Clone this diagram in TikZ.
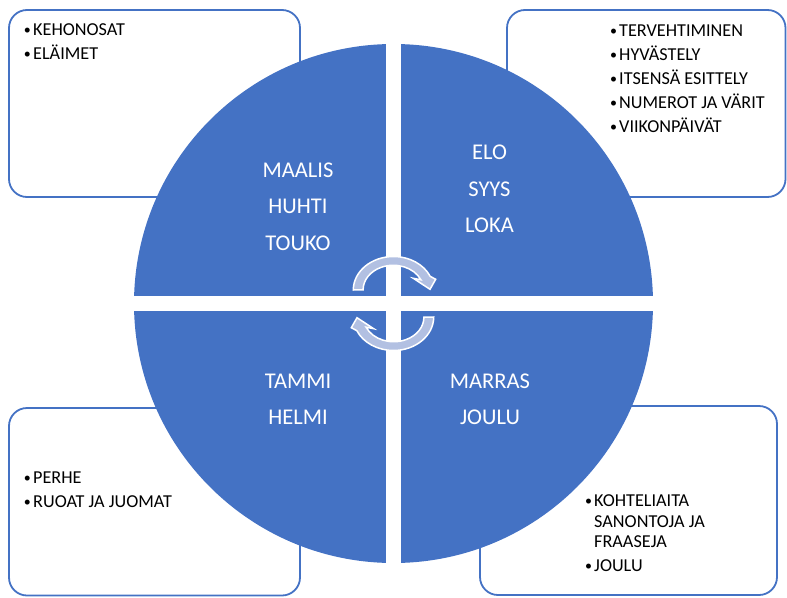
\documentclass[tikz,border=0pt]{standalone}
\usepackage{fontspec}
\setmainfont{Carlito}
\definecolor{acc}{RGB}{68,114,196}
\definecolor{arrfill}{RGB}{178,192,226}
\begin{document}
\begin{tikzpicture}[x=1pt,y=-1pt,
  box/.style={draw=acc, line width=1.8pt, rounded corners=18pt},
  qtext/.style={text=white, font=\fontsize{22.5}{26}\selectfont, anchor=base, inner sep=0pt},
  btext/.style={text=black, font=\fontsize{18.2}{21}\selectfont, anchor=base west, inner sep=0pt},
  cyc/.style={fill=arrfill, draw=white, line width=1.5pt, line join=miter}
]
\useasboundingbox (0,0) rectangle (787,597);

% outer boxes
\draw[box] (9,10) rectangle (300,197);
\draw[box] (507,10) rectangle (785.5,197);
\draw[box] (9,408) rectangle (300,595.5);
\draw[box] (480,406) rectangle (777,595);

% circle with white cross
\fill[acc] (393.5,303.5) circle[radius=259.5pt];
\fill[white] (386,40) rectangle (401,567);
\fill[white] (130,296) rectangle (657,311);

% cycle arrows
\newcommand{\cycarrow}{(353.3,290) arc[start angle=180,end angle=336,x radius=40.2,y radius=33.5]
  -- (435.7,279.3) -- (430,289.3) -- (413.3,278.3) -- (420.9,279.8)
  arc[start angle=336,end angle=180,x radius=30.2,y radius=24.5] -- cycle}
\draw[cyc] \cycarrow;
\begin{scope}[rotate around={180:(393.5,303.5)}]
\draw[cyc] \cycarrow;
\end{scope}

% quadrant texts
\node[qtext] (q1a) at (298,177) {MAALIS};
\node[qtext] (q1b) at (298,213.5) {HUHTI};
\node[qtext] (q1c) at (298,250) {TOUKO};
\node[qtext] (q2a) at (489.5,159.5) {ELO};
\node[qtext] (q2b) at (489.5,196) {SYYS};
\node[qtext] (q2c) at (489.5,232.5) {LOKA};
\node[qtext] (q3a) at (298,388) {TAMMI};
\node[qtext] (q3b) at (298,424) {HELMI};
\node[qtext] (q4a) at (490,388) {MARRAS};
\node[qtext] (q4b) at (490,424) {JOULU};

% box texts
\newcommand{\bul}{\makebox[8pt][l]{\hspace{-1.2pt}{\fontsize{14}{14}\selectfont\raisebox{0.6pt}{\textbullet}}}}
\node[btext] (a1) at (25,35.5) {\bul KEHONOSAT};
\node[btext] (a2) at (25,59) {\bul ELÄIMET};

\node[btext] (b1) at (611,36) {\bul TERVEHTIMINEN};
\node[btext] (b2) at (611,60.5) {\bul HYVÄSTELY};
\node[btext] (b3) at (611,84.3) {\bul ITSENSÄ ESITTELY};
\node[btext] (b4) at (611,108) {\bul NUMEROT JA VÄRIT};
\node[btext] (b5) at (611,132) {\bul VIIKONPÄIVÄT};

\node[btext] (c1) at (25,483) {\bul PERHE};
\node[btext] (c2) at (25,507) {\bul RUOAT JA JUOMAT};

\node[btext] (d1) at (586,506) {\bul KOHTELIAITA};
\node[btext] (d2) at (594,527) {SANONTOJA JA};
\node[btext] (d3) at (594,547) {FRAASEJA};
\node[btext] (d4) at (586,571) {\bul JOULU};
\end{tikzpicture}
\end{document}
